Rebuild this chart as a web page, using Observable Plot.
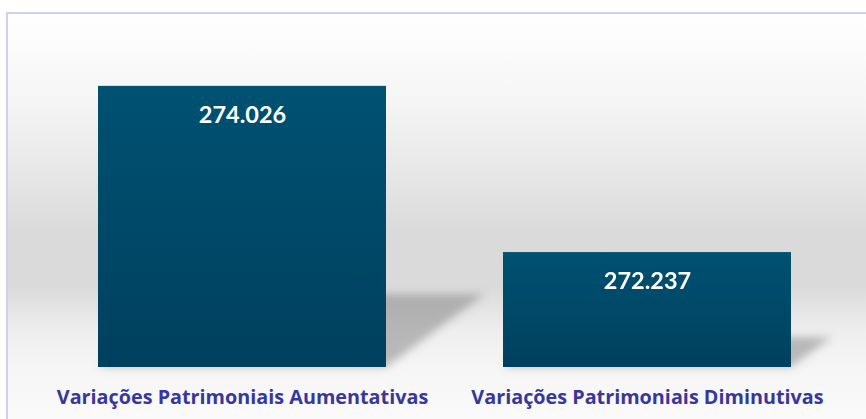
<!DOCTYPE html>
<html>
<head>
<meta charset="utf-8">
<script src="https://cdn.jsdelivr.net/npm/d3@7"></script>
<script src="https://cdn.jsdelivr.net/npm/@observablehq/plot@0.6"></script>
<style>
  html, body { margin: 0; padding: 0; background: #ffffff; }
  #wrap { position: relative; width: 866px; height: 419px; overflow: hidden; }
  #panel {
    position: absolute; left: 6px; top: 12px; width: 900px; height: 450px;
    border-left: 2px solid #cfcff1; border-top: 2px solid #cfcff1;
    background: linear-gradient(to bottom,
      #ffffff 0px, #f5f5f5 88px, #e7e7e7 158px, #dadada 218px,
      #dadada 272px, #eeeeee 318px, #f6f6f6 358px, #fafafa 407px, #fafafa 100%);
  }
  #chart { position: absolute; left: 0; top: 0; }
</style>
</head>
<body>
<div id="wrap"><div id="panel"></div><div id="chart"></div></div>
<script>
const categories = ["Variações Patrimoniais Aumentativas", "Variações Patrimoniais Diminutivas"];
const values = [274026, 272237];
const yDomain = [271000, 274950];

const data = categories.map((c, i) => ({category: c, value: values[i]}));
const fmt = v => v.toLocaleString("pt-BR");

// perspective shadow: the bar itself, flattened and skewed from its baseline
const SKEW = 1.35, SQUASH = 0.26;
function shadowRender(index, scales, values, dimensions, context, next) {
  const g = next(index, scales, values, dimensions, context);
  const y0 = scales.y(yDomain[0]);
  const m = `matrix(1,0,${-SKEW * SQUASH},${SQUASH},${SKEW * SQUASH * y0},${(1 - SQUASH) * y0})`;
  g.setAttribute("filter", "url(#shadowBlur)");
  g.querySelectorAll("rect").forEach(rc => rc.setAttribute("transform", m));
  return g;
}

const plot = Plot.plot({
  width: 866,
  height: 419,
  marginTop: 0,
  marginBottom: 52,
  marginLeft: 97,
  marginRight: 75,
  x: {domain: categories, paddingInner: 0.29, paddingOuter: 0, label: null},
  y: {domain: yDomain, clamp: true, axis: null},
  style: {background: "transparent", fontFamily: "Lato, sans-serif", overflow: "visible"},
  marks: [
    Plot.barY(data, {x: "category", y: "value", fill: "#707070", fillOpacity: 0.45, render: shadowRender}),
    Plot.barY(data, {x: "category", y: "value", fill: "url(#barGrad)"}),
    Plot.text(data, {x: "category", y: "value", text: d => fmt(d.value), dy: 29,
      fill: "white", fontSize: 23.5, fontWeight: "bold"}),
    Plot.axisX({tickSize: 0, tickPadding: 22, fontSize: 19.8, fontWeight: "bold", color: "#37379d",
      label: null, fontFamily: "'Open Sans', sans-serif"})
  ]
});

const svg = d3.select(plot);
const defs = svg.insert("defs", ":first-child");
const g = defs.append("linearGradient").attr("id", "barGrad").attr("x1", 0).attr("y1", 0).attr("x2", 0).attr("y2", 1);
g.append("stop").attr("offset", "0%").attr("stop-color", "#005172");
g.append("stop").attr("offset", "100%").attr("stop-color", "#00405e");
const f = defs.append("filter").attr("id", "shadowBlur")
  .attr("x", "-50%").attr("y", "-50%").attr("width", "200%").attr("height", "200%");
f.append("feGaussianBlur").attr("stdDeviation", 4);

document.getElementById("chart").appendChild(plot);
</script>
</body>
</html>
